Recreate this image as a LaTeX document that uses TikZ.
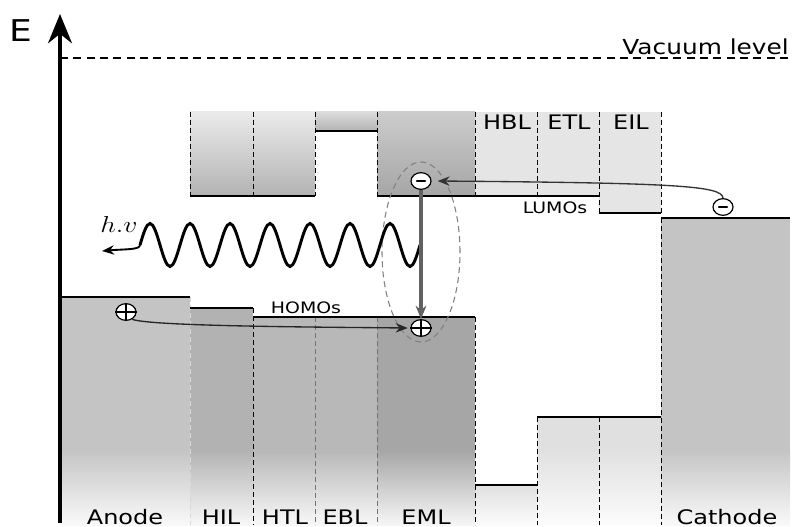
\documentclass[tikz,border=0pt]{standalone}
\usepackage{fontspec}
\usetikzlibrary{arrows.meta,shapes.geometric}
\newfontfamily\lab[FakeStretch=1.2]{DejaVu Sans}
\definecolor{anodeC}{gray}{0.77}
\definecolor{hilC}{gray}{0.70}
\definecolor{htlC}{gray}{0.72}
\definecolor{emlC}{gray}{0.65}
\definecolor{lightC}{gray}{0.88}
\definecolor{uLight}{gray}{0.90}
\tikzset{
  level/.style={line width=1.8pt, black},
  vdash/.style={line width=0.75pt, dash pattern=on 3.5pt off 2.5pt},
  vac/.style={line width=1.4pt, dash pattern=on 6pt off 4pt},
  carrier/.style={ellipse, draw, line width=0.9pt, fill=white, minimum width=15pt, minimum height=12.5pt, inner sep=0pt},
  lbl/.style={font=\lab\fontsize{15}{17}\selectfont, anchor=base, inner sep=0pt},
  small/.style={font=\lab\fontsize{11.8}{13}\selectfont, anchor=base, inner sep=0pt},
  tip/.style={-{Stealth[length=9pt,width=7pt]}}
}
\begin{document}
\begin{tikzpicture}[x=0.75pt,y=-0.75pt]
\useasboundingbox (0,0) rectangle (792,527);
% lower (HOMO) columns
\foreach \a/\b/\t/\c in {60/190/297/anodeC, 190/253/308/hilC, 253/315/317/htlC, 315/377/317/htlC, 377/475/317/emlC, 475/537/485/lightC, 537/599/417/lightC, 599/661/417/lightC, 661/790/218/anodeC}{
  \pgfmathsetmacro\m{max(\t,450)}
  \fill[\c] (\a,\t) rectangle (\b,\m+1);
  \shade[top color=\c, bottom color=white!90!\c] (\a,\m) rectangle (\b,525);
}
% upper (LUMO) boxes
\shade[top color=white!92!black, bottom color=black!30] (190,112) rectangle (315,196);
\shade[top color=black!14, bottom color=black!30] (315,112) rectangle (377,131);
\shade[top color=black!20, bottom color=black!35] (377,112) rectangle (475,196);
\fill[uLight] (475,112) rectangle (599,196);
\fill[uLight] (599,112) rectangle (661,213);
% dashed separators
\foreach \x/\y in {190/196, 253/196, 315/196, 377/196, 475/196, 537/196, 599/213, 661/213}
  \draw[vdash] (\x,112) -- (\x,\y);
\draw[vdash, draw=white!70!gray] (190,297) -- (190,525);
\draw[vdash] (253,308) -- (253,525);
\draw[vdash, draw=black!55] (315,317) -- (315,525);
\draw[vdash, draw=black!55] (377,317) -- (377,525);
\foreach \x/\y in {475/317, 537/417, 599/417, 661/218}
  \draw[vdash] (\x,\y) -- (\x,525);
% levels
\draw[level] (190,196) -- (315,196);
\draw[level] (315,131) -- (377,131);
\draw[level] (377,196) -- (599,196);
\draw[level] (599,213) -- (661,213);
\draw[level] (60,297) -- (190,297);
\draw[level] (190,308) -- (253,308);
\draw[level] (253,317) -- (475,317);
\draw[level] (475,485) -- (537,485);
\draw[level] (537,417) -- (661,417);
\draw[level] (661,218) -- (790,218);
% vacuum level and axis
\draw[vac] (60,58) -- (792,58);
\draw[line width=2.6pt, -{Stealth[length=22pt,width=18pt]}] (60,523) -- (60,14);
\node[font=\lab\fontsize{22.5}{24}\selectfont, anchor=base, inner sep=0pt] (E) at (21,42) {E};
\node[font=\lab\fontsize{15.5}{17}\selectfont, anchor=base east, inner sep=0pt] (vl) at (789,55) {Vacuum level};
% labels
\node[lbl] (l1) at (125,524) {Anode};
\node[lbl] (l2) at (221,524) {HIL};
\node[lbl] (l3) at (285,524) {HTL};
\node[lbl] (l4) at (345,524) {EBL};
\node[lbl] (l5) at (426,524) {EML};
\node[lbl] (l6) at (727,524) {Cathode};
\node[lbl] (l7) at (507,130) {HBL};
\node[lbl] (l8) at (569,130) {ETL};
\node[lbl] (l9) at (631,130) {EIL};
\node[small] (lu) at (555,214) {LUMOs};
\node[small] (ho) at (306,313) {HOMOs};
% exciton ellipse
\draw[line width=0.8pt, draw=black!50, dash pattern=on 4.5pt off 3pt] (421,252) ellipse [x radius=29.25pt, y radius=67.5pt];
% photon wave
\coordinate (w0) at (140,245);
\coordinate (wt) at (102,251);
\draw[line width=2.2pt] (w0) \foreach \i in {1,...,7}{ sin ++(10,-21.5) cos ++(10,21.5) sin ++(10,21.5) cos ++(10,-21.5) };
\draw[line width=1.4pt, tip] (w0) .. controls (140,250) and (125,249) .. (wt);
\node[anchor=base, inner sep=0pt] (hv) at (119,233) {\fontsize{17.5}{19}\selectfont\scalebox{1.2}[1]{$h.v$}};
% carriers
\node[carrier] (eC) at (723,207) {};
\node[carrier] (eE) at (421,181) {};
\node[carrier] (hA) at (126,312) {};
\node[carrier] (hE) at (421,328) {};
\draw[line width=1.7pt, line cap=round] ([xshift=-3pt]eC.center) -- ([xshift=3pt]eC.center);
\draw[line width=1.7pt, line cap=round] ([xshift=-3pt]eE.center) -- ([xshift=3pt]eE.center);
\draw[line width=1pt] (hA.west) -- (hA.east) (hA.north) -- (hA.south);
\draw[line width=1pt] (hE.west) -- (hE.east) (hE.north) -- (hE.south);
% transport arrows
\draw[line width=1pt, draw=black!80, tip] (eC.north) .. controls (722,186) and (680,183) .. ([xshift=4.5pt]eE.east);
\draw[line width=1pt, draw=black!85, tip] (hA.-50) .. controls (150,326) and (300,327) .. ([xshift=-2pt]hE.west);
\draw[line width=2.4pt, draw=black!62, -{Stealth[length=10pt,width=8pt]}] (eE.south) -- (hE.north);
\end{tikzpicture}
\end{document}
